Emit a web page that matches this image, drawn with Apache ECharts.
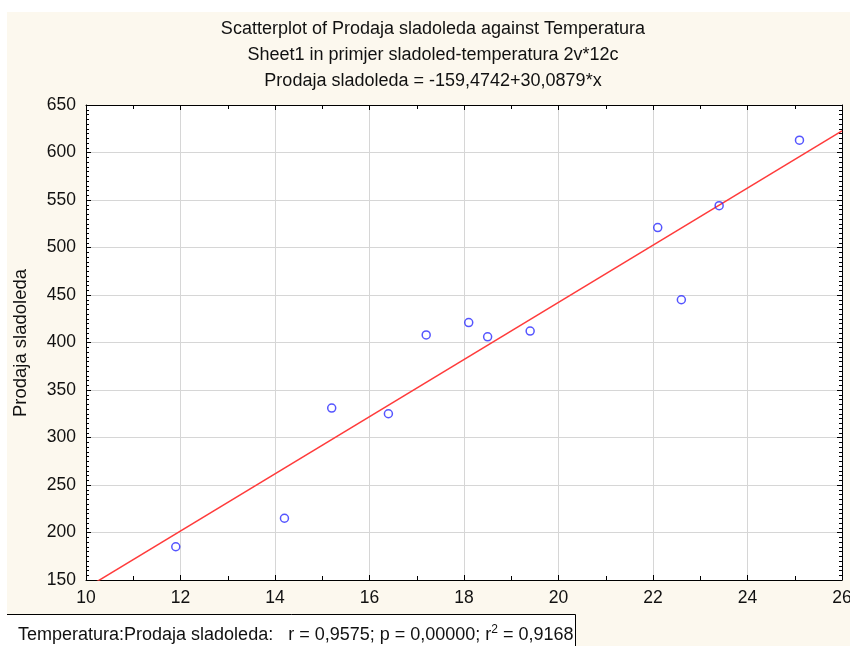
<!DOCTYPE html>
<html>
<head>
<meta charset="utf-8">
<script src="https://cdn.jsdelivr.net/npm/echarts@6/dist/echarts.min.js"></script>
<style>html,body{margin:0;padding:0;background:#fff}#c{width:850px;height:646px}</style>
</head>
<body>
<div id="c"></div>
<script>
// Data
var temperatura = [14.2, 16.4, 11.9, 15.2, 18.5, 22.1, 19.4, 25.1, 23.4, 18.1, 22.6, 17.2];
var prodaja = [215, 325, 185, 331, 406, 521, 412, 613, 544, 421, 445, 408];
var intercept = -159.4742;
var slope = 30.0879;
var xRange = [10, 26];
var yRange = [150, 650];
var titleLines = [
  'Scatterplot of Prodaja sladoleda against Temperatura',
  'Sheet1 in primjer sladoled-temperatura 2v*12c',
  'Prodaja sladoleda = -159,4742+30,0879*x'
];
var yName = 'Prodaja sladoleda';
var footerMain = 'Temperatura:Prodaja sladoleda:   r = 0,9575; p = 0,00000; r';
var footerEnd = ' = 0,9168';

var pts = temperatura.map(function (t, i) { return [t, prodaja[i]]; });
var fitLine = xRange.map(function (x) { return [x, intercept + slope * x]; });

var FONT = '"Liberation Sans", Arial, sans-serif';
var chart = echarts.init(document.getElementById('c'), null, {renderer: 'canvas'});

function axisCommon(extra) {
  return Object.assign({
    axisLine: {show: true, onZero: false, lineStyle: {color: '#000', width: 1}},
    axisTick: {show: true, inside: true, length: 5, lineStyle: {color: '#000'}},
    minorTick: {show: true, length: 3, lineStyle: {color: '#000'}},
    splitLine: {show: false},
    axisLabel: {show: false}
  }, extra);
}

chart.setOption({
  backgroundColor: '#fcf8ee',
  animation: false,
  textStyle: {fontFamily: FONT},
  grid: {left: 86, top: 105, right: 8, bottom: 66, show: true, backgroundColor: '#ffffff', borderWidth: 0,
         containLabel: false, outerBoundsMode: 'none'},
  xAxis: [
    axisCommon({
      type: 'value', position: 'bottom', min: xRange[0], max: xRange[1], interval: 2,
      minorTick: {show: true, splitNumber: 2, length: 4, lineStyle: {color: '#000'}},
      splitLine: {show: true, lineStyle: {color: '#d6d6d6', width: 1}},
      axisLabel: {show: true, fontSize: 17.5, color: '#111', fontFamily: FONT, margin: 9, hideOverlap: false}
    }),
    axisCommon({
      type: 'value', position: 'top', min: xRange[0], max: xRange[1], interval: 2,
      minorTick: {show: true, splitNumber: 2, length: 4, lineStyle: {color: '#000'}}
    })
  ],
  yAxis: [
    axisCommon({
      type: 'value', position: 'left', min: yRange[0], max: yRange[1], interval: 50,
      minorTick: {show: true, splitNumber: 10, length: 3, lineStyle: {color: '#000'}},
      splitLine: {show: true, lineStyle: {color: '#d6d6d6', width: 1}},
      axisLabel: {show: true, fontSize: 17.5, color: '#111', fontFamily: FONT, margin: 10}
    }),
    axisCommon({
      type: 'value', position: 'right', min: yRange[0], max: yRange[1], interval: 50,
      minorTick: {show: true, splitNumber: 10, length: 3, lineStyle: {color: '#000'}}
    })
  ],
  series: [
    {
      type: 'line', data: fitLine, xAxisIndex: 0, yAxisIndex: 0,
      showSymbol: false, clip: true, silent: true,
      lineStyle: {color: '#ff3b3b', width: 1.5}, z: 3
    },
    {
      type: 'scatter', data: pts, xAxisIndex: 0, yAxisIndex: 0,
      symbol: 'circle', symbolSize: 8,
      itemStyle: {color: 'rgba(255,255,255,0)', borderColor: '#2a2aff', borderWidth: 1.5}, z: 4
    }
  ],
  graphic: [
    {type: 'rect', shape: {x: 0, y: 0, width: 850, height: 12}, style: {fill: '#ffffff'}, silent: true},
    {type: 'rect', shape: {x: 0, y: 0, width: 7, height: 646}, style: {fill: '#ffffff'}, silent: true},
    {type: 'text', x: 433, y: 29, style: {text: titleLines[0], fontSize: 18, fontFamily: FONT, fill: '#111', textAlign: 'center', textVerticalAlign: 'middle'}},
    {type: 'text', x: 433, y: 55, style: {text: titleLines[1], fontSize: 18, fontFamily: FONT, fill: '#111', textAlign: 'center', textVerticalAlign: 'middle'}},
    {type: 'text', x: 433, y: 81, style: {text: titleLines[2], fontSize: 18, fontFamily: FONT, fill: '#111', textAlign: 'center', textVerticalAlign: 'middle'}},
    {type: 'text', x: 21, y: 343, rotation: Math.PI / 2, style: {text: yName, fontSize: 18.5, fontFamily: FONT, fill: '#111', textAlign: 'center', textVerticalAlign: 'middle'}},
    {type: 'rect', shape: {x: 7, y: 614, width: 568, height: 32}, style: {fill: '#ffffff'}, silent: true},
    {type: 'line', shape: {x1: 7, y1: 614.5, x2: 575.5, y2: 614.5}, style: {stroke: '#000', lineWidth: 1}, silent: true},
    {type: 'line', shape: {x1: 575.5, y1: 614.5, x2: 575.5, y2: 646}, style: {stroke: '#000', lineWidth: 1}, silent: true},
    {type: 'text', x: 18, y: 634, style: {
      text: '{m|' + footerMain + '}{s|2}{m|' + footerEnd + '}',
      textVerticalAlign: 'middle', textAlign: 'left',
      rich: {
        m: {fontSize: 18, fontFamily: FONT, fill: '#111', color: '#111', lineHeight: 20, verticalAlign: 'bottom'},
        s: {fontSize: 12, fontFamily: FONT, fill: '#111', color: '#111', lineHeight: 20, verticalAlign: 'top'}
      }
    }}
  ]
});
</script>
</body>
</html>
